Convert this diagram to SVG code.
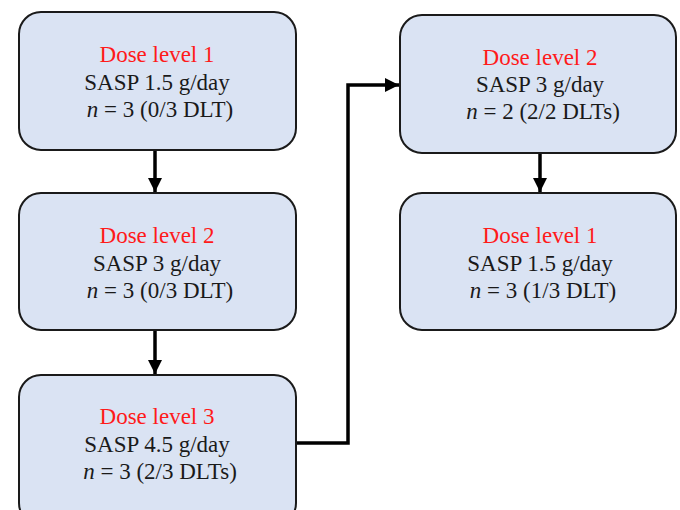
<svg xmlns="http://www.w3.org/2000/svg" width="680" height="510" viewBox="0 0 680 510">
<style>
.box{fill:#dae3f3;stroke:#1a1a1a;stroke-width:2}
text{font-family:"Liberation Serif","Times New Roman","DejaVu Serif",serif;font-size:23px;text-anchor:middle;fill:#1a1a1a}
.red{fill:#ff1a1a}
.conn{fill:none;stroke:#000;stroke-width:3.5}
</style>
<defs>
<marker id="ah" viewBox="0 0 10 10" refX="10" refY="5" markerWidth="4" markerHeight="4" markerUnits="strokeWidth" orient="auto">
<path d="M0,0 L10,5 L0,10 z" fill="#000"/>
</marker>
</defs>
<rect width="680" height="510" fill="#fff"/>
<g id="connectors">
<line class="conn" x1="155" y1="151" x2="155" y2="192" marker-end="url(#ah)"/>
<line class="conn" x1="155" y1="331" x2="155" y2="374" marker-end="url(#ah)"/>
<line class="conn" x1="540" y1="154" x2="540" y2="192" marker-end="url(#ah)"/>
<polyline class="conn" points="297,443 348,443 348,85 399,85" marker-end="url(#ah)"/>
</g>
<g id="n1">
<rect class="box" x="19" y="12" width="277" height="138" rx="22"/>
<text x="157" y="62" class="red">Dose level 1</text>
<text x="157" y="90">SASP 1.5 g/day</text>
<text x="160" y="117"><tspan font-style="italic">n</tspan> = 3 (0/3 DLT)</text>
</g>
<g id="n2">
<rect class="box" x="19" y="193" width="277" height="137" rx="22"/>
<text x="157" y="243" class="red">Dose level 2</text>
<text x="157" y="271">SASP 3 g/day</text>
<text x="160" y="298"><tspan font-style="italic">n</tspan> = 3 (0/3 DLT)</text>
</g>
<g id="n3">
<rect class="box" x="19" y="375" width="277" height="150" rx="22"/>
<text x="157" y="424" class="red">Dose level 3</text>
<text x="157" y="452">SASP 4.5 g/day</text>
<text x="160" y="479"><tspan font-style="italic">n</tspan> = 3 (2/3 DLTs)</text>
</g>
<g id="n4">
<rect class="box" x="400" y="15" width="276" height="138" rx="22"/>
<text x="540" y="65" class="red">Dose level 2</text>
<text x="540" y="92">SASP 3 g/day</text>
<text x="543" y="119"><tspan font-style="italic">n</tspan> = 2 (2/2 DLTs)</text>
</g>
<g id="n5">
<rect class="box" x="400" y="193" width="276" height="137" rx="22"/>
<text x="540" y="243" class="red">Dose level 1</text>
<text x="540" y="271">SASP 1.5 g/day</text>
<text x="543" y="298"><tspan font-style="italic">n</tspan> = 3 (1/3 DLT)</text>
</g>
</svg>
